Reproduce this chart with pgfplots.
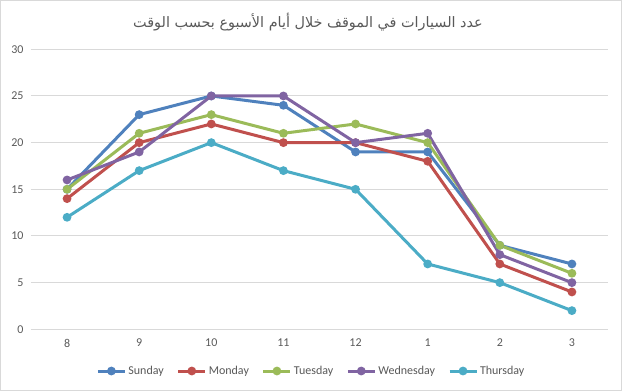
\documentclass[border=0pt]{standalone}
\usepackage{pgfplots}
\pgfplotsset{compat=1.18}
\usepackage{fontspec}
\setmainfont{Carlito}
\newfontfamily\arabicfont[Script=Arabic]{DejaVu Sans}
\TeXXeTstate=1
\definecolor{cSun}{HTML}{4F81BD}
\definecolor{cMon}{HTML}{C0504D}
\definecolor{cTue}{HTML}{9BBB59}
\definecolor{cWed}{HTML}{8064A2}
\definecolor{cThu}{HTML}{4BACC6}
\definecolor{gridgray}{HTML}{D9D9D9}
\definecolor{labelgray}{HTML}{595959}
\begin{document}
\begin{tikzpicture}[x=1pt,y=1pt]
\draw[draw=gridgray, line width=1pt] (0.5,0.5) rectangle (621.5,390.5);
\node[text=labelgray, font=\arabicfont\fontsize{14.4}{18}\selectfont] at (308,369) {\beginR عدد السيارات في الموقف خلال أيام الأسبوع بحسب الوقت\endR};
\begin{axis}[
  at={(31pt,61.7pt)}, anchor=south west,
  scale only axis, width=577pt, height=280pt,
  xmin=-0.5, xmax=7.5, ymin=0, ymax=30,
  xtick={0,...,7}, xticklabels={8,9,10,11,12,1,2,3},
  ytick={0,5,...,30},
  axis line style={draw=none},
  ymajorgrids, grid style={draw=gridgray, line width=1pt},
  major tick length=0pt,
  tick label style={font=\fontsize{12}{14}\selectfont, text=labelgray},
  xticklabel style={yshift=-6pt},
  yticklabel style={xshift=-4pt},
  /pgf/number format/assume math mode=true,
  every axis plot/.append style={line width=3pt, mark=*, mark size=2.8pt, mark options={solid}},
  legend style={at={(axis description cs:0.486,-0.149)}, anchor=center, draw=none,
    font=\fontsize{12}{14}\selectfont, text=labelgray,
    /tikz/every even column/.append style={column sep=11pt}},
  legend columns=5, legend cell align=left,
  legend image code/.code={\draw[#1, mark repeat=2, mark phase=2] plot coordinates {(0pt,0pt) (13.5pt,0pt) (27pt,0pt)};},
]
\addplot[color=cSun] coordinates {(0,15) (1,23) (2,25) (3,24) (4,19) (5,19) (6,9) (7,7)};
\addlegendentry{Sunday}
\addplot[color=cMon] coordinates {(0,14) (1,20) (2,22) (3,20) (4,20) (5,18) (6,7) (7,4)};
\addlegendentry{Monday}
\addplot[color=cTue] coordinates {(0,15) (1,21) (2,23) (3,21) (4,22) (5,20) (6,9) (7,6)};
\addlegendentry{Tuesday}
\addplot[color=cWed] coordinates {(0,16) (1,19) (2,25) (3,25) (4,20) (5,21) (6,8) (7,5)};
\addlegendentry{Wednesday}
\addplot[color=cThu] coordinates {(0,12) (1,17) (2,20) (3,17) (4,15) (5,7) (6,5) (7,2)};
\addlegendentry{Thursday}
\end{axis}
\end{tikzpicture}
\end{document}
